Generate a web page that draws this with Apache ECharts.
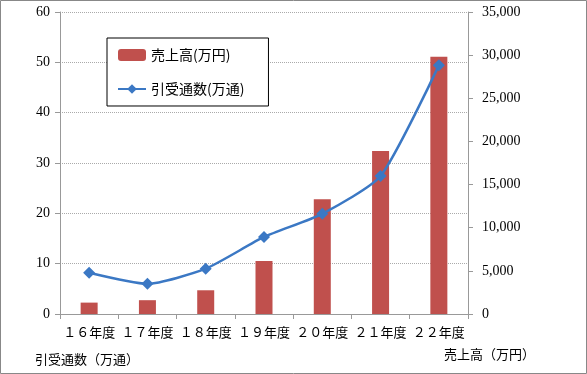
<!DOCTYPE html>
<html><head><meta charset="utf-8">
<script src="https://cdn.jsdelivr.net/npm/echarts@6/dist/echarts.min.js"></script>
<style>html,body{margin:0;padding:0;background:#fff}#c{width:587px;height:374px}</style>
</head><body><div id="c"></div>
<script>
const categories = ['１６年度','１７年度','１８年度','１９年度','２０年度','２１年度','２２年度'];
const sales = [1320, 1600, 2750, 6150, 13300, 18900, 29800];
const letters = [8.2, 6.0, 9.0, 15.3, 19.9, 27.4, 49.4];
const salesName = '売上高(万円)';
const lettersName = '引受通数(万通)';
const leftTitle = '引受通数（万通）';
const rightTitle = '売上高（万円）';

const numFont = '"Liberation Serif", "DejaVu Serif", serif';
const jpFont = '"Noto Sans CJK JP", sans-serif';
const chart = echarts.init(document.getElementById('c'));
chart.setOption({
  animation: false,
  backgroundColor: '#fff',
  grid: { left: 60, right: 119, top: 12, bottom: 60 },
  legend: {
    orient: 'vertical', left: 107, top: 38, width: 135,
    backgroundColor: '#fff', borderColor: '#000', borderWidth: 1,
    padding: [10, 24, 10, 10], itemGap: 20, itemWidth: 28, itemHeight: 12,
    textStyle: { fontFamily: jpFont, fontSize: 14, color: '#000' },
    data: [salesName, lettersName]
  },
  xAxis: {
    type: 'category', data: categories,
    axisLine: { lineStyle: { color: '#999' } },
    axisTick: { show: true, lineStyle: { color: '#999' } },
    axisLabel: { interval: 0, fontFamily: jpFont, fontSize: 13, color: '#000', margin: 12 }
  },
  yAxis: [
    { type: 'value', min: 0, max: 60, interval: 10,
      axisLine: { show: true, lineStyle: { color: '#999' } },
      axisTick: { show: true, lineStyle: { color: '#999' } },
      axisLabel: { fontFamily: numFont, fontSize: 14, color: '#000', margin: 10 },
      splitLine: { lineStyle: { color: '#aaa', type: 'dotted' } } },
    { type: 'value', min: 0, max: 35000, interval: 5000, position: 'right',
      axisLine: { show: true, lineStyle: { color: '#999' } },
      axisTick: { show: true, lineStyle: { color: '#999' } },
      axisLabel: { fontFamily: numFont, fontSize: 14, color: '#000', margin: 14,
        formatter: v => v.toLocaleString('en-US') },
      splitLine: { show: false } }
  ],
  series: [
    { name: salesName, type: 'bar', yAxisIndex: 1, data: sales, barWidth: 17,
      itemStyle: { color: '#C0504D' } },
    { name: lettersName, type: 'line', yAxisIndex: 0, data: letters, smooth: 0.2,
      symbol: 'diamond', symbolSize: 12,
      lineStyle: { color: '#3B78C4', width: 2.5 },
      itemStyle: { color: '#3B78C4' } }
  ],
  graphic: [
    { type: 'rect', shape: { x: 0.5, y: 0.5, width: 586, height: 373 },
      style: { fill: 'none', stroke: '#888', lineWidth: 1 }, silent: true },
    { type: 'text', left: 35, top: 353,
      style: { text: leftTitle, font: '13px ' + jpFont, fill: '#000' } },
    { type: 'text', left: 444, top: 348,
      style: { text: rightTitle, font: '13px ' + jpFont, fill: '#000' } }
  ]
});
</script></body></html>
